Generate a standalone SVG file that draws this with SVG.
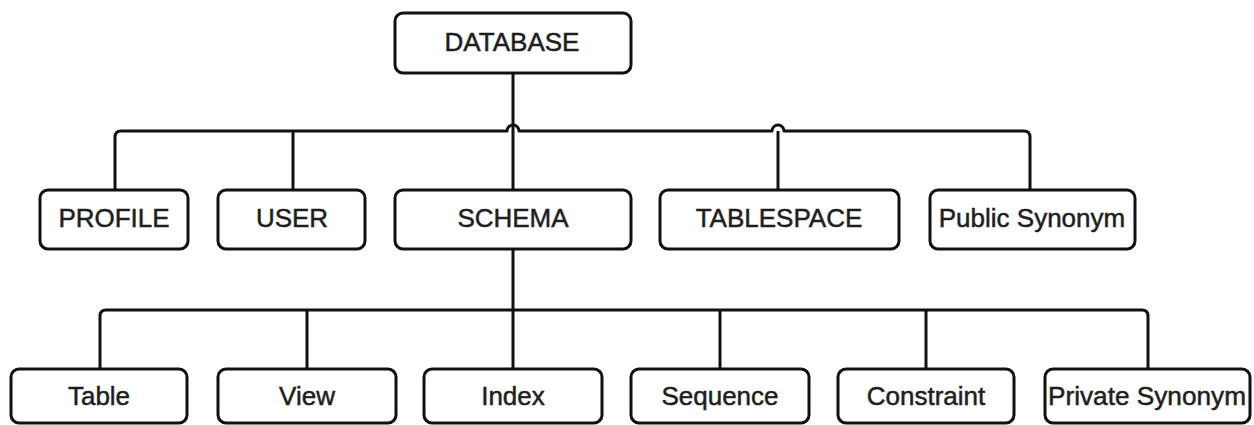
<svg xmlns="http://www.w3.org/2000/svg" width="1254" height="425" viewBox="0 0 1254 425">
<style>
.box{fill:#fff;stroke:#111;stroke-width:3}
.lbl{font-family:"Liberation Sans",Arial,sans-serif;font-size:26px;fill:#1e1e1e;stroke:#1e1e1e;stroke-width:0.5;text-anchor:middle}
.ln{fill:none;stroke:#111;stroke-width:3;stroke-linejoin:round}
</style>
<rect width="1254" height="425" fill="#fff"/>
<g id="connectors">
<path class="ln" d="M513,73 V190"/>
<path class="ln" d="M115,190 V137 Q115,131 121,131 H507 A6,6 0 0 1 519,131 H772 A6,6 0 0 1 784,131 H1024 Q1030,131 1030,137 V190"/>
<path class="ln" d="M293,131 V190"/>
<path class="ln" d="M778,131 V190"/>
<path class="ln" d="M513,249 V369"/>
<path class="ln" d="M100,369 V316 Q100,310 106,310 H1142 Q1148,310 1148,316 V369"/>
<path class="ln" d="M307,310 V369"/>
<path class="ln" d="M720,310 V369"/>
<path class="ln" d="M926,310 V369"/>
</g>
<g id="n-database"><rect class="box" x="395" y="13" width="236" height="60" rx="8"/><text class="lbl" x="512" y="51">DATABASE</text></g>
<g id="n-profile"><rect class="box" x="40" y="190" width="148" height="59" rx="8"/><text class="lbl" x="114" y="227">PROFILE</text></g>
<g id="n-user"><rect class="box" x="218" y="190" width="147" height="59" rx="8"/><text class="lbl" x="292" y="227">USER</text></g>
<g id="n-schema"><rect class="box" x="395" y="190" width="236" height="59" rx="8"/><text class="lbl" x="513" y="227">SCHEMA</text></g>
<g id="n-tablespace"><rect class="box" x="660" y="190" width="239" height="59" rx="8"/><text class="lbl" x="779" y="227">TABLESPACE</text></g>
<g id="n-public-synonym"><rect class="box" x="930" y="190" width="205" height="59" rx="8"/><text class="lbl" x="1032" y="227">Public Synonym</text></g>
<g id="n-table"><rect class="box" x="11" y="369" width="176" height="54" rx="8"/><text class="lbl" x="99" y="405">Table</text></g>
<g id="n-view"><rect class="box" x="218" y="369" width="178" height="54" rx="8"/><text class="lbl" x="307" y="405">View</text></g>
<g id="n-index"><rect class="box" x="424" y="369" width="178" height="54" rx="8"/><text class="lbl" x="513" y="405">Index</text></g>
<g id="n-sequence"><rect class="box" x="631" y="369" width="178" height="54" rx="8"/><text class="lbl" x="720" y="405">Sequence</text></g>
<g id="n-constraint"><rect class="box" x="838" y="369" width="176" height="54" rx="8"/><text class="lbl" x="926" y="405">Constraint</text></g>
<g id="n-private-synonym"><rect class="box" x="1045" y="369" width="205" height="54" rx="8"/><text class="lbl" x="1147" y="405" textLength="198" lengthAdjust="spacingAndGlyphs">Private Synonym</text></g>
</svg>
